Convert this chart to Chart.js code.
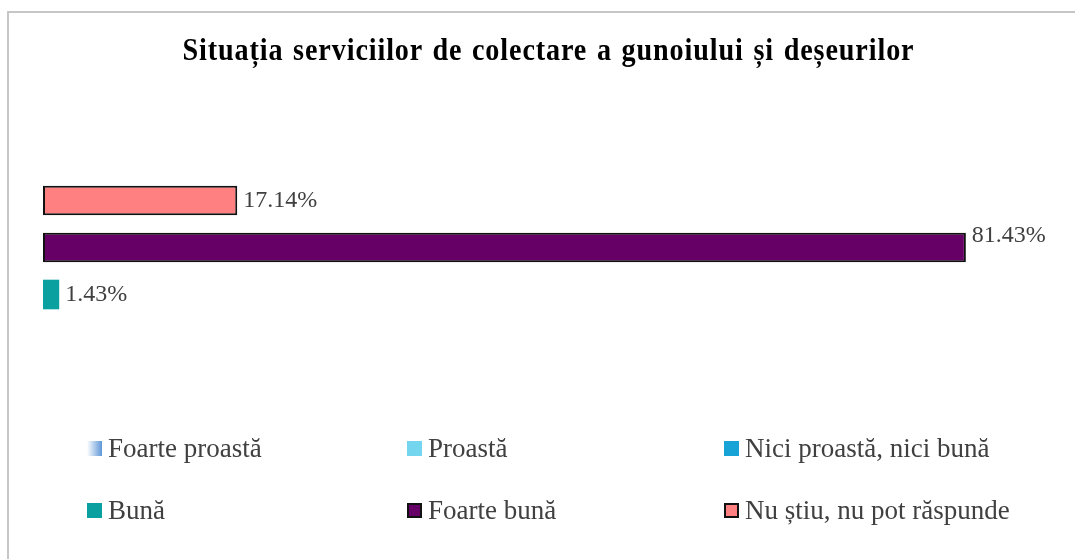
<!DOCTYPE html>
<html lang="ro">
<head>
<meta charset="utf-8">
<title>Situația serviciilor de colectare a gunoiului și deșeurilor</title>
<script src="https://cdn.jsdelivr.net/npm/chart.js@4.4.1/dist/chart.umd.min.js"></script>
<style>
  html, body { margin: 0; padding: 0; background: #ffffff; }
  body { width: 1075px; height: 559px; position: relative; overflow: hidden; font-family: "Liberation Serif", "Times New Roman", serif; }
  #frame { position: absolute; left: 7px; top: 11px; width: 1100px; height: 600px; border-left: 2px solid #c6c6c6; border-top: 2px solid #c6c6c6; box-sizing: border-box; }
  #chart { position: absolute; left: 0; top: 0; }
  #title { position: absolute; left: 0; width: 1097px; top: 29px; text-align: center; font-weight: bold; font-size: 32px; line-height: 40px; letter-spacing: 1px; word-spacing: 2px; color: #000; white-space: nowrap; transform: scaleX(0.88); transform-origin: 548.5px 50%; }
  #legend { position: absolute; left: 0; top: 0; width: 1075px; height: 559px; pointer-events: none; }
  .item { position: absolute; display: flex; align-items: center; font-size: 27px; color: #404040; white-space: nowrap; height: 30px; }
  .box { width: 15px; height: 15px; margin-right: 6px; box-sizing: border-box; flex: none; }
</style>
</head>
<body>
<div id="frame"></div>
<canvas id="chart" width="1075" height="559"></canvas>
<div id="title">Situația serviciilor de colectare a gunoiului și deșeurilor</div>
<div id="legend"></div>
<script>
// Answer options, in the order of the survey scale
const categories = ['Foarte proastă', 'Proastă', 'Nici proastă, nici bună', 'Bună', 'Foarte bună', 'Nu știu, nu pot răspunde'];
// Share of respondents (%) for each option; null = no answers
const shares = [null, null, null, 1.43, 81.43, 17.14];
const axisMax = 90;

// Colours per option
const fills = ['#5f97d8', '#74d5ee', '#17a3d6', '#0aa0a0', '#660066', '#ff8080'];
const borders = [null, null, null, null, '#111111', '#111111'];
// vertical nudge for a value label (px)
const labelNudge = { 'Foarte bună': -12 };

const ctx = document.getElementById('chart').getContext('2d');

function legendSwatch(i) {
  if (i === 0) return 'linear-gradient(to right, #ffffff, #5f97d8)';
  return fills[i];
}

// Series are listed bottom-up, so the last option sits at the top
const datasets = categories.map((name, i) => ({
  label: name,
  data: [shares[i]],
  backgroundColor: fills[i],
  borderColor: borders[i] || fills[i],
  borderWidth: borders[i] ? 2 : 0,
  borderSkipped: false
})).reverse();

const valueLabels = {
  id: 'valueLabels',
  afterDatasetsDraw(chart) {
    const c = chart.ctx;
    c.save();
    c.font = '24px "Liberation Serif", "Times New Roman", serif';
    c.fillStyle = '#404040';
    c.textAlign = 'left';
    c.textBaseline = 'middle';
    chart.data.datasets.forEach((ds, di) => {
      const meta = chart.getDatasetMeta(di);
      meta.data.forEach((el, j) => {
        const v = ds.data[j];
        if (v === null || v === undefined) return;
        const dy = labelNudge[ds.label] || 0;
        c.fillText(v.toFixed(2) + '%', el.x + 6, el.y + dy);
      });
    });
    c.restore();
  }
};

new Chart(ctx, {
  type: 'bar',
  data: { labels: [''], datasets },
  options: {
    indexAxis: 'y',
    responsive: false,
    animation: false,
    devicePixelRatio: 1,
    skipNull: true,
    categoryPercentage: 1,
    barPercentage: 0.63,
    layout: { padding: { left: 43, right: 12, top: 177, bottom: 241 } },
    scales: {
      x: { display: false, min: 0, max: axisMax },
      y: { display: false }
    },
    plugins: {
      legend: { display: false },
      title: { display: false },
      tooltip: { enabled: false }
    }
  },
  plugins: [valueLabels]
});

// Legend: three columns, two rows
const legend = document.getElementById('legend');
const colX = [87, 407, 724];
const rowY = [433, 495];
categories.forEach((name, i) => {
  const item = document.createElement('div');
  item.className = 'item';
  item.style.left = colX[i % 3] + 'px';
  item.style.top = rowY[Math.floor(i / 3)] + 'px';
  const box = document.createElement('span');
  box.className = 'box';
  box.style.background = legendSwatch(i);
  if (borders[i]) box.style.border = '2px solid ' + borders[i];
  const txt = document.createElement('span');
  txt.textContent = name;
  item.appendChild(box);
  item.appendChild(txt);
  legend.appendChild(item);
});
</script>
</body>
</html>
